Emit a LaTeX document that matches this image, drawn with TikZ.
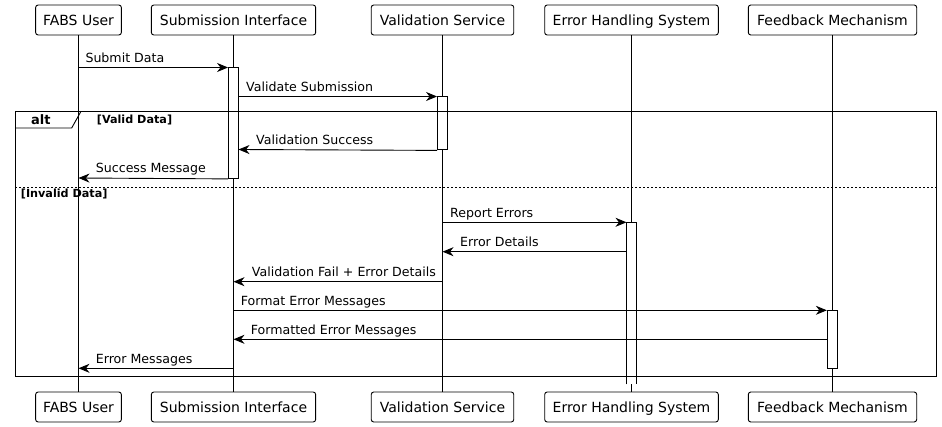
\documentclass[tikz,border=0pt]{standalone}
\usepackage{fontspec}
\setmainfont{DejaVu Sans}
\usetikzlibrary{arrows.meta}
\begin{document}
\begin{tikzpicture}[x=1pt,y=-1pt,
 part/.style={draw, rounded corners=2.5pt, minimum height=30pt, line width=0.9pt,
   font=\fontsize{14}{16}\selectfont, text height=10.2pt, text depth=0pt, inner sep=0pt, fill=white},
 msg/.style={-{Stealth[length=11pt,width=9pt,inset=3.5pt]}, line width=0.9pt},
 lbl/.style={font=\fontsize{12.6}{15}\selectfont, inner sep=0pt, anchor=base west},
 life/.style={line width=0.9pt},
 act/.style={draw, fill=white, line width=0.9pt, minimum width=10pt, inner sep=0pt, anchor=north},
 frame/.style={line width=0.9pt},
 guard/.style={font=\bfseries\fontsize{11.2}{13}\selectfont, inner sep=0pt, anchor=base west}
]
\useasboundingbox (0,0) rectangle (942,427);
% participants
\node[part, minimum width=85.7pt]  (u1) at (78.5,20) {FABS User};
\node[part, minimum width=164.3pt] (s1) at (233.5,20) {Submission Interface};
\node[part, minimum width=142.5pt] (v1) at (442.5,20) {Validation Service};
\node[part, minimum width=173.6pt] (e1) at (631.5,20) {Error Handling System};
\node[part, minimum width=168.4pt] (f1) at (832.5,20) {Feedback Mechanism};
\node[part, minimum width=85.7pt]  (u2) at (78.5,407) {FABS User};
\node[part, minimum width=164.3pt] (s2) at (233.5,407) {Submission Interface};
\node[part, minimum width=142.5pt] (v2) at (442.5,407) {Validation Service};
\node[part, minimum width=173.6pt] (e2) at (631.5,407) {Error Handling System};
\node[part, minimum width=168.4pt] (f2) at (832.5,407) {Feedback Mechanism};
% lifelines
\draw[life] (u1.south) -- (u2.north);
\draw[life] (s1.south) -- (s2.north);
\draw[life] (v1.south) -- (v2.north);
\draw[life] (e1.south) -- (e2.north);
\draw[life] (f1.south) -- (f2.north);
% activations
\node[act, minimum height=110.5pt] (aS) at (233.5,67.5) {};
\node[act, minimum height=53pt] (aV) at (442.5,96.5) {};
\node[act, minimum height=58pt, minimum width=10.4pt] (aF) at (832.5,310.3) {};
\fill[white] (626.5,222.3) rectangle (636.5,384.3);
\coordinate (aEnw) at (626.5,222.3);
\coordinate (aEne) at (636.5,222.3);
\draw[line width=0.9pt] (626.5,384.3) -- (aEnw) -- (aEne) -- (636.5,384.3);
% alt frame
\draw[frame] (15.3,111.3) rectangle (936,376.3);
\draw[frame] (15.3,128) -- (71.7,128) -- (81,111.3);
\node[font=\bfseries\fontsize{13}{15}\selectfont, inner sep=0pt, anchor=base west] (alt) at (31,124.5) {alt};
\node[guard] (g1) at (96.7,124) {[Valid Data]};
\draw[line width=0.7pt, dash pattern=on 2pt off 2pt] (15.3,187.3) -- (936,187.3);
\node[guard] (g2) at (20.7,198) {[Invalid Data]};
% messages
\coordinate (m1a) at (78.5,67.5);
\draw[msg] (m1a) -- (aS.north west);
\node[lbl] (t1) at (85.3,62.5) {Submit Data};
\coordinate (m2a) at (238.5,96.5);
\draw[msg] (m2a) -- (aV.north west);
\node[lbl] (t2) at (246,91.5) {Validate Submission};
\draw[msg] (aV.south west) -- (238.5,149.5);
\node[lbl] (t3) at (256,144.5) {Validation Success};
\coordinate (m4b) at (78.5,178);
\draw[msg] (aS.south west) -- (m4b);
\node[lbl] (t4) at (95.7,173) {Success Message};
\coordinate (m5a) at (442.5,222.3);
\draw[msg] (m5a) -- (aEnw);
\node[lbl] (t5) at (450,217.3) {Report Errors};
\coordinate (m6a) at (626.5,251.7);
\coordinate (m6b) at (442.5,251.7);
\draw[msg] (m6a) -- (m6b);
\node[lbl] (t6) at (460,246.7) {Error Details};
\coordinate (m7a) at (442.5,281.7);
\coordinate (m7b) at (233.5,281.7);
\draw[msg] (m7a) -- (m7b);
\node[lbl] (t7) at (251.7,276.7) {Validation Fail + Error Details};
\coordinate (m8a) at (233.5,310.3);
\draw[msg] (m8a) -- (aF.north west);
\node[lbl] (t8) at (240.7,305.3) {Format Error Messages};
\coordinate (m9a) at (827.3,339.3);
\coordinate (m9b) at (233.5,339.3);
\draw[msg] (m9a) -- (m9b);
\node[lbl] (t9) at (250.7,334.3) {Formatted Error Messages};
\coordinate (m10a) at (233.5,368.3);
\coordinate (m10b) at (78.5,368.3);
\draw[msg] (m10a) -- (m10b);
\node[lbl] (t10) at (95.7,363.3) {Error Messages};
\end{tikzpicture}
\end{document}
